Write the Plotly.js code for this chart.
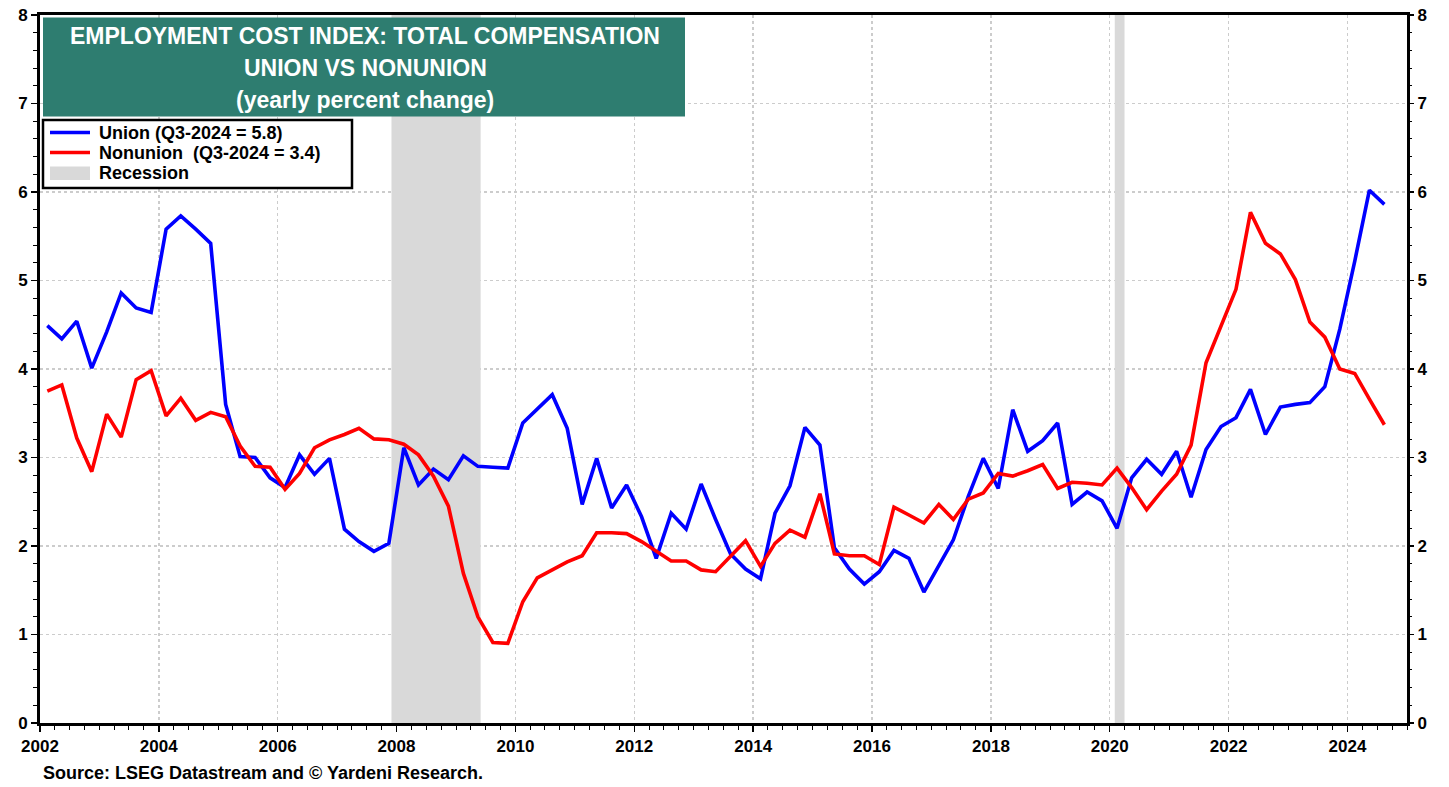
<!DOCTYPE html>
<html>
<head>
<meta charset="utf-8">
<script src="https://cdn.plot.ly/plotly-3.0.1.min.js"></script>
<style>
  html, body { margin: 0; padding: 0; background: #ffffff; }
  #chart { width: 1449px; height: 787px; }
</style>
</head>
<body>
<div id="chart"></div>
<script>
// ---- Data (quarterly, Q1-2002 .. Q3-2024), yearly percent change ----
const startYear = 2002;
const quarterCount = 91;

const unionValues = [
  4.49, 4.34, 4.54, 4.01,
  4.42, 4.86, 4.69, 4.64,
  5.58, 5.73, 5.58, 5.42,
  3.60, 3.01, 3.00, 2.77,
  2.66, 3.03, 2.81, 2.99,
  2.19, 2.05, 1.94, 2.03,
  3.11, 2.69, 2.87, 2.75,
  3.02, 2.90, 2.89, 2.88,
  3.39, 3.55, 3.71, 3.33,
  2.47, 2.99, 2.43, 2.69,
  2.33, 1.86, 2.37, 2.19,
  2.70, 2.30, 1.91, 1.74,
  1.63, 2.37, 2.68, 3.34,
  3.14, 1.98, 1.74, 1.57,
  1.71, 1.95, 1.86, 1.48,
  1.77, 2.07, 2.56, 2.99,
  2.65, 3.54, 3.07, 3.19,
  3.39, 2.47, 2.61, 2.51,
  2.20, 2.77, 2.98, 2.81,
  3.07, 2.55, 3.09, 3.35,
  3.45, 3.77, 3.26, 3.57,
  3.60, 3.62, 3.80, 4.45,
  5.22, 6.02, 5.86
];

const nonunionValues = [
  3.75, 3.82, 3.22, 2.84,
  3.49, 3.23, 3.88, 3.98,
  3.47, 3.67, 3.42, 3.51,
  3.46, 3.13, 2.90, 2.89,
  2.64, 2.82, 3.11, 3.20,
  3.26, 3.33, 3.21, 3.20,
  3.15, 3.03, 2.79, 2.45,
  1.69, 1.20, 0.91, 0.90,
  1.37, 1.64, 1.73, 1.82,
  1.89, 2.15, 2.15, 2.14,
  2.05, 1.94, 1.83, 1.83,
  1.73, 1.71, 1.88, 2.06,
  1.77, 2.03, 2.18, 2.10,
  2.59, 1.91, 1.89, 1.89,
  1.79, 2.44, 2.35, 2.26,
  2.47, 2.30, 2.53, 2.60,
  2.82, 2.79, 2.85, 2.92,
  2.65, 2.72, 2.71, 2.69,
  2.88, 2.66, 2.41, 2.62,
  2.81, 3.14, 4.07, 4.48,
  4.90, 5.77, 5.42, 5.30,
  5.01, 4.53, 4.36, 4.00,
  3.95, 3.66, 3.37
];

const recessionStarts = ['2007-12-01', '2020-02-01'];
const recessionEnds   = ['2009-06-01', '2020-04-01'];

const seriesNames = ['Union (Q3-2024 = 5.8)', 'Nonunion  (Q3-2024 = 3.4)', 'Recession'];
const seriesColors = ['#0000ff', '#ff0000', '#d9d9d9'];
const titleLines = ['EMPLOYMENT COST INDEX: TOTAL COMPENSATION', 'UNION VS NONUNION', '(yearly percent change)'];
const sourceText = 'Source: LSEG Datastream and © Yardeni Research.';

// quarter dates (middle month of each quarter)
const quarterDates = [];
for (let i = 0; i < quarterCount; i++) {
  const y = startYear + Math.floor(i / 4);
  const m = (i % 4) * 3 + 2;
  quarterDates.push(y + '-' + String(m).padStart(2, '0') + '-15');
}

const FONT = 'Liberation Sans, Arial, Helvetica, sans-serif';
const yMin = 0, yMax = 8;

// plot-area geometry helpers (pixels -> paper)
const W = 1449, H = 787, ML = 40, MR = 42, MT = 15, MB = 64;
const PW = W - ML - MR, PH = H - MT - MB;
const px = x => (x - ML) / PW;
const py = y => (H - MB - y) / PH;

const traces = [];
recessionStarts.forEach((s, i) => {
  traces.push({
    type: 'scatter', mode: 'none',
    x: [s, s, recessionEnds[i], recessionEnds[i], s],
    y: [yMin, yMax, yMax, yMin, yMin],
    fill: 'toself', fillcolor: seriesColors[2],
    name: seriesNames[2], showlegend: false, hoverinfo: 'skip'
  });
});
traces.push({
  type: 'scatter', mode: 'lines', x: quarterDates, y: unionValues,
  name: seriesNames[0], line: {color: seriesColors[0], width: 3.6}, showlegend: false
});
traces.push({
  type: 'scatter', mode: 'lines', x: quarterDates, y: nonunionValues,
  name: seriesNames[1], line: {color: seriesColors[1], width: 3.6}, showlegend: false
});
traces.push({
  type: 'scatter', mode: 'lines', x: [quarterDates[0]], y: [null],
  yaxis: 'y2', showlegend: false, hoverinfo: 'skip'
});

const tickFont = {family: FONT, size: 17, color: '#000', weight: 700};

// manual legend
const legendRows = [132.5, 152.5, 173];
const legendShapes = [
  {type: 'rect', xref: 'paper', yref: 'paper', x0: px(43), x1: px(352), y0: py(188), y1: py(120),
   fillcolor: '#ffffff', line: {color: '#000', width: 2.5}, layer: 'above'},
  {type: 'line', xref: 'paper', yref: 'paper', x0: px(50), x1: px(90), y0: py(legendRows[0]), y1: py(legendRows[0]),
   line: {color: seriesColors[0], width: 3.6}, layer: 'above'},
  {type: 'line', xref: 'paper', yref: 'paper', x0: px(50), x1: px(90), y0: py(legendRows[1]), y1: py(legendRows[1]),
   line: {color: seriesColors[1], width: 3.6}, layer: 'above'},
  {type: 'rect', xref: 'paper', yref: 'paper', x0: px(50), x1: px(90), y0: py(180), y1: py(166.5),
   fillcolor: seriesColors[2], line: {width: 0}, layer: 'above'}
];
const legendAnnotations = seriesNames.map((n, i) => ({
  xref: 'paper', yref: 'paper', x: px(97), y: py(legendRows[i]),
  xanchor: 'left', yanchor: 'middle', showarrow: false,
  text: n, font: {family: FONT, size: 18, color: '#000', weight: 700}
}));

const layout = {
  width: W, height: H,
  margin: {l: ML, r: MR, t: MT, b: MB},
  paper_bgcolor: '#ffffff', plot_bgcolor: '#ffffff',
  showlegend: false,
  xaxis: {
    type: 'date', range: ['2002-01-01', '2025-01-01'],
    tick0: '2002-01-01', dtick: 'M24', tickformat: '%Y',
    ticks: 'outside', ticklen: 6, tickwidth: 1.5, tickcolor: '#000',
    showline: true, linewidth: 3, linecolor: '#000', mirror: true,
    showgrid: true, gridcolor: '#cccccc', griddash: 'dot', gridwidth: 1.5,
    zeroline: false, tickfont: tickFont,
    minor: {dtick: 'M3', tick0: '2002-01-01', ticks: 'outside', ticklen: 4, tickwidth: 1, tickcolor: '#000', showgrid: false}
  },
  yaxis: {
    range: [yMin, yMax], dtick: 1, tick0: 0,
    ticks: 'outside', ticklen: 6, tickwidth: 1.5, tickcolor: '#000',
    showline: true, linewidth: 3, linecolor: '#000', mirror: true,
    showgrid: true, gridcolor: '#cccccc', griddash: 'dot', gridwidth: 1.5,
    zeroline: false, tickfont: tickFont,
    minor: {dtick: 0.2, ticks: 'outside', ticklen: 4, tickwidth: 1, tickcolor: '#000', showgrid: false}
  },
  yaxis2: {
    overlaying: 'y', side: 'right',
    range: [yMin, yMax], dtick: 1, tick0: 0,
    ticks: 'outside', ticklen: 6, tickwidth: 1.5, tickcolor: '#000',
    showline: false, showgrid: false, zeroline: false, tickfont: tickFont,
    minor: {dtick: 0.2, ticks: 'outside', ticklen: 4, tickwidth: 1, tickcolor: '#000', showgrid: false}
  },
  shapes: [
    {type: 'rect', xref: 'paper', yref: 'paper',
     x0: px(43), x1: px(685), y0: py(116.5), y1: py(17.5),
     fillcolor: '#2e7d70', line: {width: 0}, layer: 'above'},
    ...legendShapes
  ],
  annotations: [
    ...titleLines.map((t, i) => ({
      xref: 'paper', yref: 'paper', x: px(365), y: py([36, 68, 100][i]),
      xanchor: 'center', yanchor: 'middle', showarrow: false,
      text: t, font: {family: FONT, size: 23, color: '#ffffff', weight: 700}
    })),
    ...legendAnnotations,
    {
      xref: 'paper', yref: 'paper', x: px(41), y: py(773),
      xanchor: 'left', yanchor: 'middle', showarrow: false,
      text: sourceText, font: {family: FONT, size: 18, color: '#000', weight: 700}
    }
  ]
};

Plotly.newPlot('chart', traces, layout, {displayModeBar: false, staticPlot: true});
</script>
</body>
</html>
